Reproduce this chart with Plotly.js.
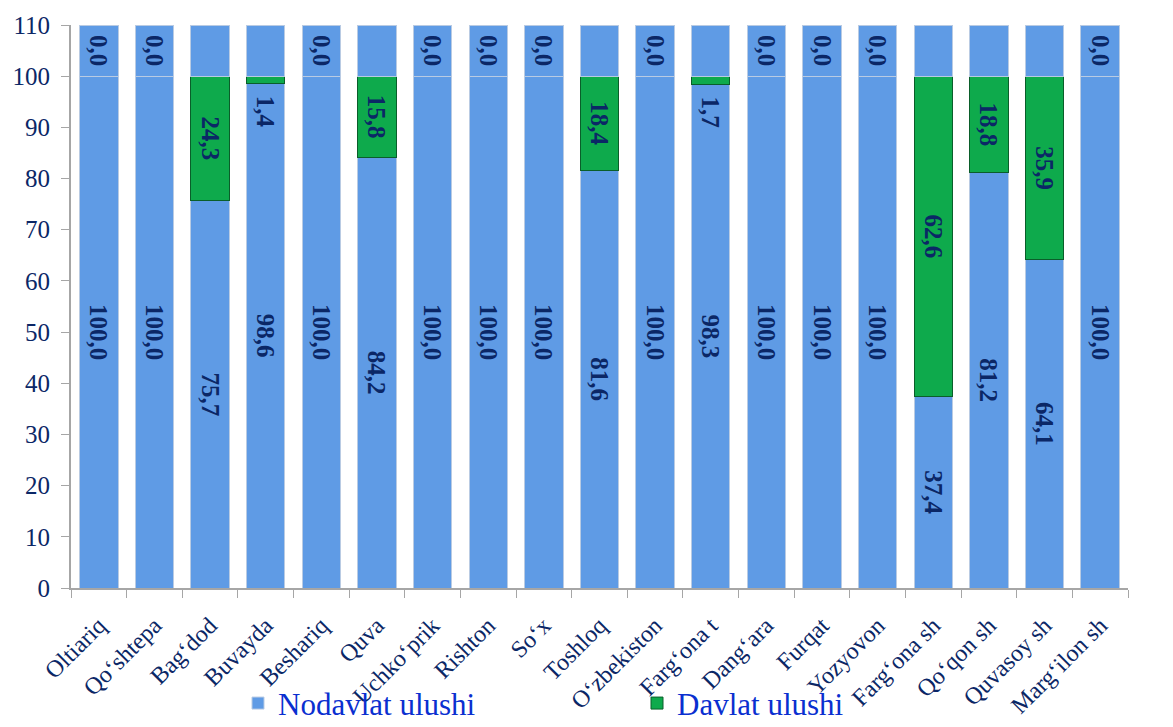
<!DOCTYPE html>
<html><head><meta charset="utf-8">
<script src="https://cdn.plot.ly/plotly-3.0.1.min.js"></script>
<style>html,body{margin:0;padding:0;background:#fff}#chart{width:1173px;height:727px}</style>
</head><body><div id="chart"></div>
<script>
const categories = ["Oltiariq","Qo‘shtepa","Bag‘dod","Buvayda","Beshariq","Quva","Uchko‘prik","Rishton","So‘x","Toshloq","O‘zbekiston","Farg‘ona t","Dang‘ara","Furqat","Yozyovon","Farg‘ona sh","Qo‘qon sh","Quvasoy sh","Marg‘ilon sh"];
const nodavlat = [100.0,100.0,75.7,98.6,100.0,84.2,100.0,100.0,100.0,81.6,100.0,98.3,100.0,100.0,100.0,37.4,81.2,64.1,100.0];
const davlat   = [0.0,0.0,24.3,1.4,0.0,15.8,0.0,0.0,0.0,18.4,0.0,1.7,0.0,0.0,0.0,62.6,18.8,35.9,0.0];
const topBand  = [10,10,10,10,10,10,10,10,10,10,10,10,10,10,10,10,10,10,10];
const yTicks = [0,10,20,30,40,50,60,70,80,90,100,110];

const fmt = v => v.toFixed(1).replace('.', ',');
const serif = "'Liberation Serif', 'Times New Roman', serif";
const labelFont = {family: serif, size: 25, color: "#0B2766", weight: "bold"};
const blue = "#5F9BE5", green = "#0EAA4C";

const traces = [
  {type:"bar", name:"Nodavlat ulushi", x:categories, y:nodavlat,
   marker:{color:blue, line:{color:"#B9CBE3", width:1}},
   text:nodavlat.map(fmt), textposition:"inside", insidetextanchor:"middle", textangle:90,
   constraintext:"none", textfont:labelFont, hoverinfo:"x+y"},
  {type:"bar", name:"Davlat ulushi", x:categories, y:davlat,
   marker:{color:green, line:{color:"#0A5E2A", width:1}},
   text:davlat.map(v => v >= 5 ? fmt(v) : ""), textposition:"inside", insidetextanchor:"middle", textangle:90,
   constraintext:"none", textfont:labelFont, hoverinfo:"x+y"},
  {type:"bar", name:"band", x:categories, y:topBand, showlegend:false,
   marker:{color:blue, line:{color:"#B9CBE3", width:1}},
   text:davlat.map(v => v === 0 ? fmt(v) : ""), textposition:"inside", insidetextanchor:"middle", textangle:90,
   constraintext:"none", textfont:labelFont, hoverinfo:"skip"}
];

const annotations = [];
davlat.forEach((v, i) => {
  if (v > 0 && v < 5) {
    annotations.push({x:categories[i], y:nodavlat[i], xref:"x", yref:"y", text:fmt(v), showarrow:false,
      textangle:90, yanchor:"top", xanchor:"center", yshift:-10, font:labelFont});
  }
});

const layout = {
  width:1173, height:727,
  margin:{l:71, r:45, t:25, b:139, autoexpand:false},
  barmode:"stack", bargap:0.31,
  separators:", ",
  paper_bgcolor:"#fff", plot_bgcolor:"#fff",
  font:{family:serif, color:"#0B2766"},
  xaxis:{type:"category", tickangle:-45, tickson:"boundaries", ticks:"outside", ticklen:8, tickcolor:"#A6A6A6",
         showline:true, linecolor:"#A6A6A6", linewidth:2, showgrid:false, ticklabelstandoff:12, automargin:false,
         tickfont:{size:24, color:"#0B2766", family:serif}},
  yaxis:{range:[0,110], tickvals:yTicks, ticks:"outside", ticklen:8, tickcolor:"#A6A6A6",
         showline:true, linecolor:"#A6A6A6", linewidth:2, showgrid:false, zeroline:false,
         ticklabelstandoff:6, automargin:false,
         tickfont:{size:25, color:"#0B2766", family:serif}},
  legend:{orientation:"h", traceorder:"normal", x:0.158, xanchor:"left", y:-0.205, yanchor:"middle",
          entrywidth:354, entrywidthmode:"pixels", bgcolor:"rgba(0,0,0,0)",
          font:{size:31, color:"#0A2FD0", family:serif}},
  annotations:annotations,
  showlegend:true
};

Plotly.newPlot("chart", traces, layout, {displayModeBar:false, staticPlot:true});
</script>
</body></html>
